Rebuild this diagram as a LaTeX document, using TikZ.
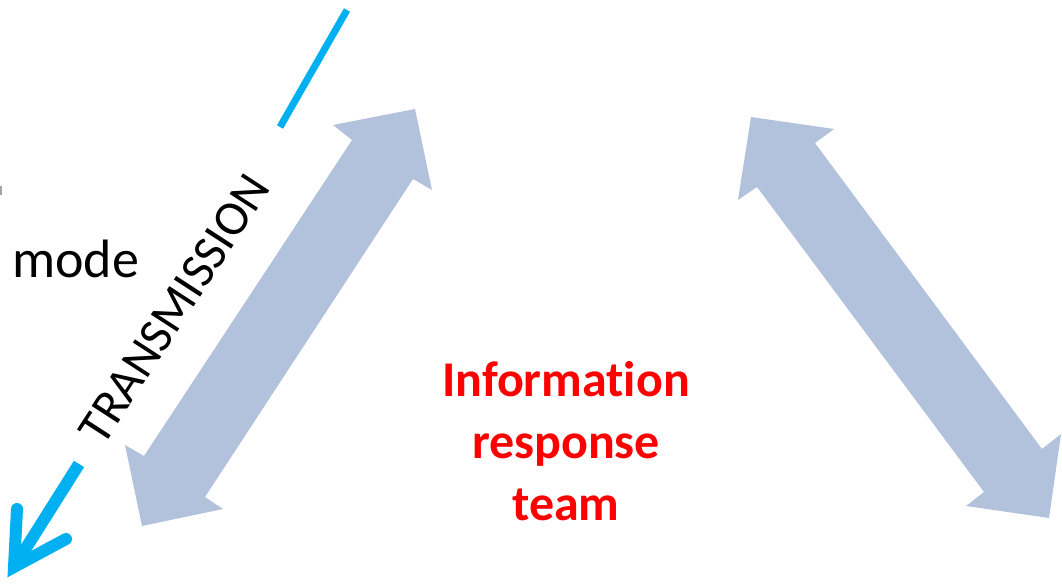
\documentclass[tikz,border=0pt]{standalone}
\usepackage{fontspec}
\setmainfont{Carlito}[Ligatures={TeX,NoCommon}]
\definecolor{blockblue}{RGB}{179,194,220}
\definecolor{skyblue}{RGB}{0,176,240}
\definecolor{redtext}{RGB}{255,0,0}
\begin{document}
\begin{tikzpicture}[x=1pt,y=-1pt,
  blockarrow/.style={fill=blockblue,draw=none},
  bluestroke/.style={draw=skyblue,line cap=butt},
  plaintext/.style={inner sep=0pt,text=black},
  teamtext/.style={inner sep=0pt,text=redtext,align=center,font=\fontsize{50}{62}\selectfont\bfseries}]
\useasboundingbox (0,0) rectangle (1062,585);
% small cut-off mark at left edge
\fill[gray!70] (0,186) rectangle (2,195);
% left double block arrow
\fill[blockarrow] (415,109) -- (432,190) -- (413,179) -- (205,497) -- (223,509)
  -- (142,526) -- (125,445) -- (144,456) -- (352,140) -- (333,125) -- cycle;
% right double block arrow
\fill[blockarrow] (751,117) -- (834,129) -- (815,143) -- (1042,449) -- (1061,434)
  -- (1049,518) -- (966,506) -- (984,492) -- (757,187) -- (738,200) -- cycle;
% blue transmission line
\coordinate (ltop) at (347,10);
\coordinate (lmid) at (280,127);
\coordinate (shaftstart) at (79,464);
\coordinate (tipv) at (14,567);
\coordinate (barbA) at (17,509);
\coordinate (barbB) at (66,539);
\draw[bluestroke,line width=7pt] (ltop) -- (lmid);
\draw[bluestroke,line width=12pt] (shaftstart) -- (tipv);
\draw[draw=skyblue,line width=12pt,line cap=round,line join=miter,miter limit=10] (barbA) -- (tipv) -- (barbB);
% texts
\node[plaintext,anchor=base west,font=\fontsize{54}{62}\selectfont] (mode) at (12,277) {mode};
\node[plaintext,rotate=57,font=\fontsize{49}{58}\selectfont] (trans) at (174,309) {TRANSMISSION};
\node[teamtext,anchor=north] (team) at (566,361) {Information\\response\\team};
\end{tikzpicture}
\end{document}
